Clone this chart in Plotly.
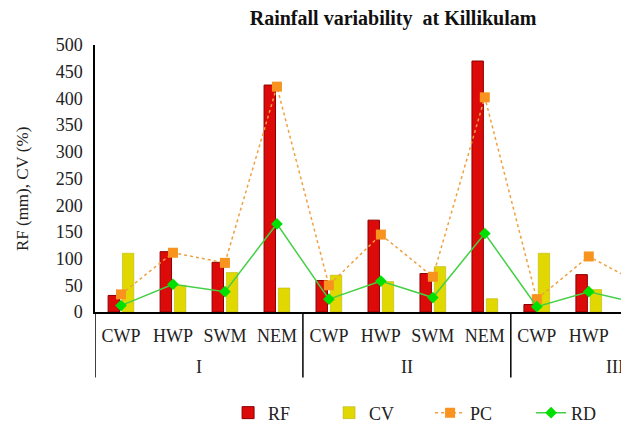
import plotly.graph_objects as go

groups = ["I", "I", "I", "I", "II", "II", "II", "II", "III", "III", "III", "III"]
seasons = ["CWP", "HWP", "SWM", "NEM"] * 3
rf = [31, 113, 93, 425, 59, 172, 72, 470, 14, 70, 60, 400]
cv = [110, 50, 74, 45, 69, 57, 85, 25, 110, 42, 70, 30]
pc = [33, 111, 92, 422, 50, 145, 66, 402, 24, 104, 52, 350]
rd = [12, 52, 38, 165, 24, 58, 27, 147, 10, 38, 15, 140]

idx = list(range(len(seasons)))
serif = "Liberation Serif, Times New Roman, serif"

fig = go.Figure()
fig.add_trace(go.Bar(x=idx, y=rf, name="RF", marker=dict(color="#dd0a0a", line=dict(color="#8b0000", width=1))))
fig.add_trace(go.Bar(x=idx, y=cv, name="CV", marker=dict(color="#e0d800", line=dict(color="#b5ad00", width=0.5))))
fig.add_trace(go.Scatter(x=idx, y=pc, name="PC", mode="lines+markers",
                         line=dict(color="#f0a040", width=1.5, dash="dot"),
                         marker=dict(symbol="square", size=10, color="#f7931e")))
fig.add_trace(go.Scatter(x=idx, y=rd, name="RD", mode="lines+markers",
                         line=dict(color="#44d044", width=1.5),
                         marker=dict(symbol="diamond", size=9, color="#00e000")))

# group labels and dividers derived from the group list
annotations = [dict(text="RF (mm), CV (%)", textangle=-90, xref="paper", yref="paper",
                    x=-0.139, y=0.46, xanchor="center", yanchor="middle", showarrow=False,
                    font=dict(family=serif, size=17, color="#222"))]
shapes = []
start = 0
for i in range(1, len(groups) + 1):
    if i == len(groups) or groups[i] != groups[start]:
        annotations.append(dict(text=groups[start], xref="x", yref="paper",
                                x=(start + i - 1) / 2, y=-0.206, xanchor="center", yanchor="middle",
                                showarrow=False, font=dict(family=serif, size=18, color="#222")))
        shapes.append(dict(type="line", xref="x", yref="paper", x0=start - 0.5, x1=start - 0.5,
                           y0=0, y1=-0.245, line=dict(color="black", width=1.5)))
        start = i

fig.update_layout(
    width=621, height=426,
    margin=dict(l=95, r=0, t=45, b=114, autoexpand=False),
    paper_bgcolor="white", plot_bgcolor="white",
    barmode="group", bargap=0.45, bargroupgap=0.2,
    font=dict(family=serif, size=16, color="#222"),
    title=dict(text="<b>Rainfall variability  at Killikulam</b>", x=0.633, xanchor="center",
               y=0.958, yanchor="middle", font=dict(family=serif, size=20, color="#111")),
    showlegend=True,
    legend=dict(orientation="h", x=0.253, xanchor="left", y=-0.378, yanchor="middle",
                entrywidth=56, entrywidthmode="pixels",
                font=dict(family=serif, size=18, color="#222"), traceorder="normal"),
    annotations=annotations,
    shapes=shapes,
)
fig.update_xaxes(range=[-0.5, 9.62], tickmode="array", tickvals=idx, ticktext=seasons,
                 showline=True, linecolor="black", linewidth=1.5,
                 ticks="outside", ticklen=7, tickcolor="rgba(0,0,0,0)", automargin=False,
                 tickfont=dict(family=serif, size=18, color="#222"), showgrid=False, zeroline=False)
fig.update_yaxes(range=[0, 500], dtick=50, showline=True, linecolor="black", linewidth=1.5,
                 showgrid=False, zeroline=False, ticks="outside", ticklen=7,
                 tickcolor="rgba(0,0,0,0)", automargin=False,
                 tickfont=dict(family=serif, size=18, color="#222"))

fig.write_html("out.html", config={"displayModeBar": False},
               post_script="document.body.style.margin='0';")
